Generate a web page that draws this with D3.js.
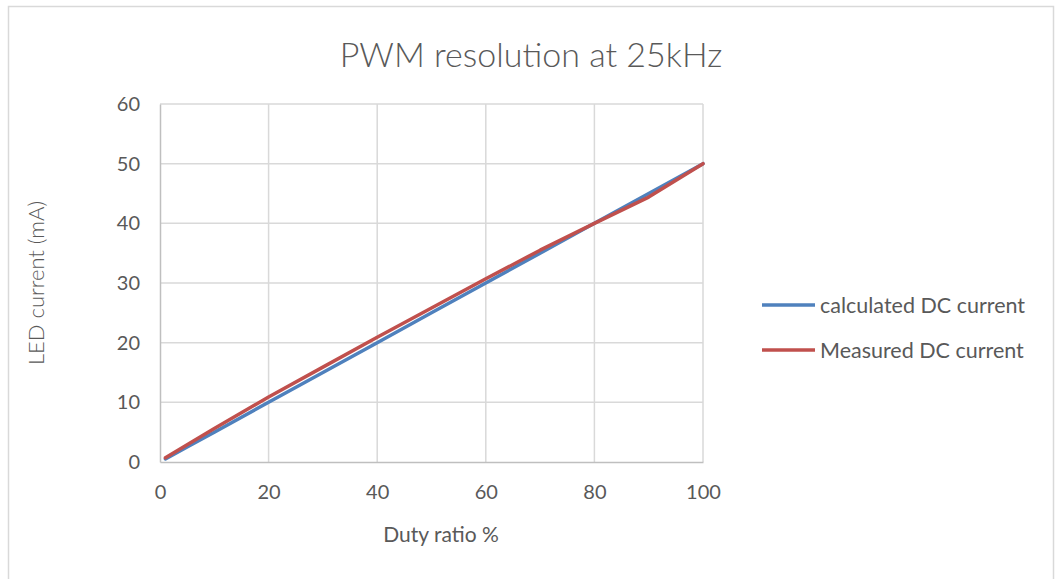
<!DOCTYPE html>
<html>
<head>
<meta charset="utf-8">
<script src="https://cdn.jsdelivr.net/npm/d3@7"></script>
<style>
  html, body { margin: 0; padding: 0; background: #fff; }
  svg { display: block; font-family: Lato, "Open Sans", sans-serif; }
</style>
</head>
<body>
<div id="chart"></div>
<script>
// duty ratio (%) and LED current (mA)
const dutyRatio = [1, 5, 10, 20, 30, 40, 50, 60, 70, 80, 90, 100];
const calculated = [0.5, 2.5, 5, 10, 15, 20, 25, 30, 35, 40, 45, 50];
const measured = [0.7, 2.9, 5.6, 10.9, 15.9, 20.9, 25.8, 30.7, 35.5, 40, 44.4, 50];
const xTicks = [0, 20, 40, 60, 80, 100];
const yTicks = [0, 10, 20, 30, 40, 50, 60];
const seriesNames = ["calculated DC current", "Measured DC current"];
const seriesColors = ["#4f81bd", "#c0504d"];

const width = 1055, height = 579;
const margin = { top: 104, right: 352, bottom: 117, left: 160 };
const textColor = "#595959";

const svg = d3.select("#chart").append("svg")
  .attr("width", width)
  .attr("height", height);

// chart frame
svg.append("rect")
  .attr("x", 8.5).attr("y", 6.5)
  .attr("width", 1045).attr("height", 600)
  .attr("fill", "#fff")
  .attr("stroke", "#d9d9d9")
  .attr("stroke-width", 1.5);

const x = d3.scaleLinear().domain([0, 100]).range([margin.left, width - margin.right]);
const y = d3.scaleLinear().domain([0, 60]).range([height - margin.bottom, margin.top]);

// gridlines
svg.append("g")
  .selectAll("line")
  .data(yTicks.slice(1))
  .join("line")
  .attr("x1", x(0)).attr("x2", x(100))
  .attr("y1", d => y(d)).attr("y2", d => y(d))
  .attr("stroke", "#d9d9d9").attr("stroke-width", 1.5);

svg.append("g")
  .selectAll("line")
  .data(xTicks.slice(1))
  .join("line")
  .attr("x1", d => x(d)).attr("x2", d => x(d))
  .attr("y1", y(0)).attr("y2", y(60))
  .attr("stroke", "#d9d9d9").attr("stroke-width", 1.5);

// axes
const xAxis = svg.append("g")
  .attr("transform", `translate(0,${y(0)})`)
  .call(d3.axisBottom(x).tickValues(xTicks).tickSize(0).tickPadding(23));

const yAxis = svg.append("g")
  .attr("transform", `translate(${x(0)},0)`)
  .call(d3.axisLeft(y).tickValues(yTicks).tickSize(0).tickPadding(20));

[xAxis, yAxis].forEach(g => {
  g.attr("font-family", null).attr("font-size", null);
  g.select(".domain").attr("stroke", "#bfbfbf").attr("stroke-width", 1.5);
  g.selectAll(".tick text")
    .attr("fill", textColor)
    .style("font-size", "20px");
});

// lines
const line = d3.line()
  .x((d, i) => x(dutyRatio[i]))
  .y(d => y(d));

[calculated, measured].forEach((vals, i) => {
  svg.append("path")
    .datum(vals)
    .attr("fill", "none")
    .attr("stroke", seriesColors[i])
    .attr("stroke-width", 3.5)
    .attr("stroke-linejoin", "round")
    .attr("stroke-linecap", "round")
    .attr("d", line);
});

// title
svg.append("text")
  .attr("x", 531).attr("y", 67)
  .attr("text-anchor", "middle")
  .attr("fill", textColor)
  .style("font-size", "34px")
  .style("font-weight", 300)
  .text("PWM resolution at 25kHz");

// axis titles
svg.append("text")
  .attr("x", 441).attr("y", 542)
  .attr("text-anchor", "middle")
  .attr("fill", textColor)
  .style("font-size", "21px")
  .text("Duty ratio %");

svg.append("text")
  .attr("transform", `translate(44,${y(30)}) rotate(-90)`)
  .attr("text-anchor", "middle")
  .attr("fill", textColor)
  .style("font-size", "22px")
  .style("font-weight", 300)
  .text("LED current (mA)");

// legend
const legend = svg.append("g")
  .selectAll("g")
  .data(seriesNames)
  .join("g")
  .attr("transform", (d, i) => `translate(762,${305 + i * 45})`);

legend.append("line")
  .attr("x1", 0).attr("x2", 53)
  .attr("stroke", (d, i) => seriesColors[i])
  .attr("stroke-width", 3.5);

legend.append("text")
  .attr("x", 58).attr("dy", "0.35em")
  .attr("fill", textColor)
  .style("font-size", "21.5px")
  .text(d => d);
</script>
</body>
</html>
